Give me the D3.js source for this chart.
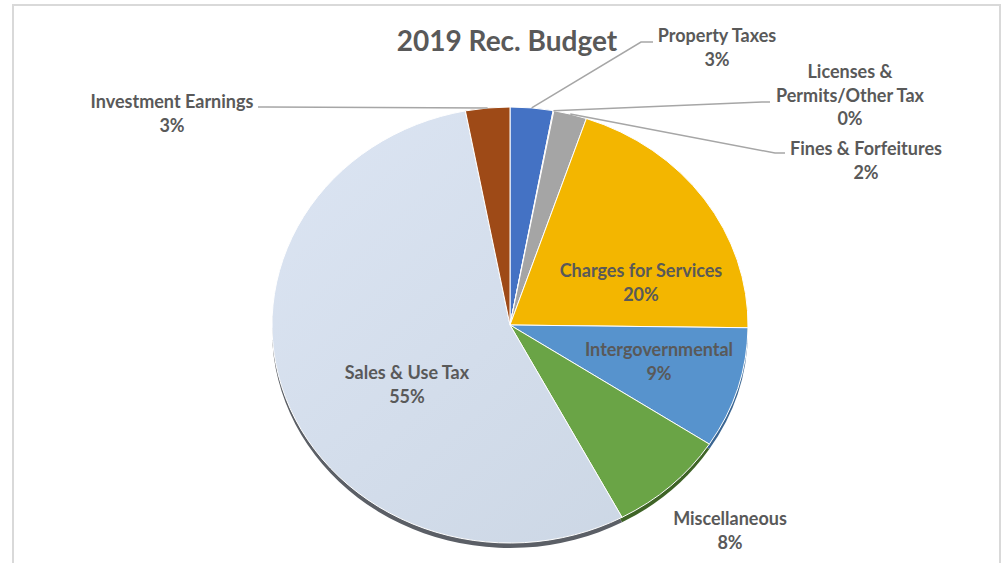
<!DOCTYPE html>
<html>
<head>
<meta charset="utf-8">
<script src="https://cdn.jsdelivr.net/npm/d3@7"></script>
<style>
  html, body { margin: 0; padding: 0; background: #fff; }
  svg { display: block; }
  text { font-family: Lato, "Open Sans", sans-serif; font-weight: bold; fill: #595959; }
</style>
</head>
<body>
<svg id="chart" width="1005" height="563"></svg>
<script>
// ---- data ----
const categories = ["Property Taxes", "Licenses & Permits/Other Tax", "Fines & Forfeitures",
  "Charges for Services", "Intergovernmental", "Miscellaneous", "Sales & Use Tax", "Investment Earnings"];
const values = [2.9, 0.05, 2.25, 20.0, 9.0, 8.0, 54.8, 3.0];
const title = "2019 Rec. Budget";

// ---- styles / layout ----
const colors = ["#4472C4", "#ED7D31", "#A5A5A5", "#F3B600", "#5793CD", "#6AA446", "#D3DDEB", "#9E4A17"];
const rimColors = ["#2d4f8c", "#a0521c", "#6e6e6e", "#a37a00", "#3a6591", "#3f6427", "#5b5f66", "#6a300e"];
const cx = 510, cy = 325, rx = 238, ry = 218, depth = 5;

// label layout: lines of text, anchor center x, first baseline y, leader path (elbow, end)
const labelLayout = [
  { lines: ["Property Taxes"], x: 717, y: 42, leader: [[641, 42], [653, 42]] },
  { lines: ["Licenses &", "Permits/Other Tax"], x: 850, y: 78, leader: [[762, 102], [770, 102]] },
  { lines: ["Fines & Forfeitures"], x: 866, y: 155, leader: [[775, 153], [785, 153]] },
  { lines: ["Charges for Services"], x: 641, y: 277 },
  { lines: ["Intergovernmental"], x: 659, y: 356 },
  { lines: ["Miscellaneous"], x: 730, y: 525 },
  { lines: ["Sales & Use Tax"], x: 407, y: 379 },
  { lines: ["Investment Earnings"], x: 172, y: 108, leader: [[266, 107], [258, 107]] }
];

const svg = d3.select("#chart");
const total = d3.sum(values);

// frame
svg.append("rect").attr("x", 13).attr("y", 5).attr("width", 987).attr("height", 580)
  .attr("fill", "#fff").attr("stroke", "#D9D9D9").attr("stroke-width", 2);

// gradient for the big slice
const defs = svg.append("defs");
const grad = defs.append("linearGradient").attr("id", "salesGrad")
  .attr("gradientUnits", "userSpaceOnUse")
  .attr("x1", -rx).attr("y1", -rx).attr("x2", rx).attr("y2", rx);
grad.append("stop").attr("offset", "0").attr("stop-color", "#DCE5F3");
grad.append("stop").attr("offset", "1").attr("stop-color", "#CAD5E3");

const pie = d3.pie().sort(null).value(d => d).startAngle(0).endAngle(2 * Math.PI);
const arcs = pie(values);
const arc = d3.arc().innerRadius(0).outerRadius(rx);
const sy = ry / rx;

// rim (depth) layer
const rim = svg.append("g").attr("transform", `translate(${cx},${cy + depth}) scale(1,${sy})`);
rim.selectAll("path").data(arcs).join("path")
  .attr("d", arc)
  .attr("fill", (d, i) => rimColors[i]);

// top face
const face = svg.append("g").attr("transform", `translate(${cx},${cy}) scale(1,${sy})`);
face.selectAll("path").data(arcs).join("path")
  .attr("d", arc)
  .attr("fill", (d, i) => i === 6 ? "url(#salesGrad)" : colors[i])
  .attr("stroke", "#fff").attr("stroke-width", 1)
  .attr("vector-effect", "non-scaling-stroke");

// title
svg.append("text").attr("x", 507).attr("y", 51).attr("text-anchor", "middle")
  .style("font-size", "28px").text(title);

// labels
const fs = 18, lh = 23.5;
arcs.forEach((a, i) => {
  const L = labelLayout[i];
  const pct = Math.round(values[i] / total * 100) + "%";
  const lines = L.lines.concat([pct]);
  const t = svg.append("text").attr("text-anchor", "middle").style("font-size", fs + "px");
  lines.forEach((s, k) => {
    t.append("tspan").attr("x", L.x).attr("y", L.y + k * lh).text(s);
  });
  if (L.leader) {
    const mid = (a.startAngle + a.endAngle) / 2;
    const p0 = [cx + rx * Math.sin(mid), cy - ry * Math.cos(mid)];
    const pts = [p0].concat(L.leader);
    svg.append("path").attr("d", d3.line()(pts))
      .attr("fill", "none").attr("stroke", "#A6A6A6").attr("stroke-width", 1.5);
  }
});
</script>
</body>
</html>
